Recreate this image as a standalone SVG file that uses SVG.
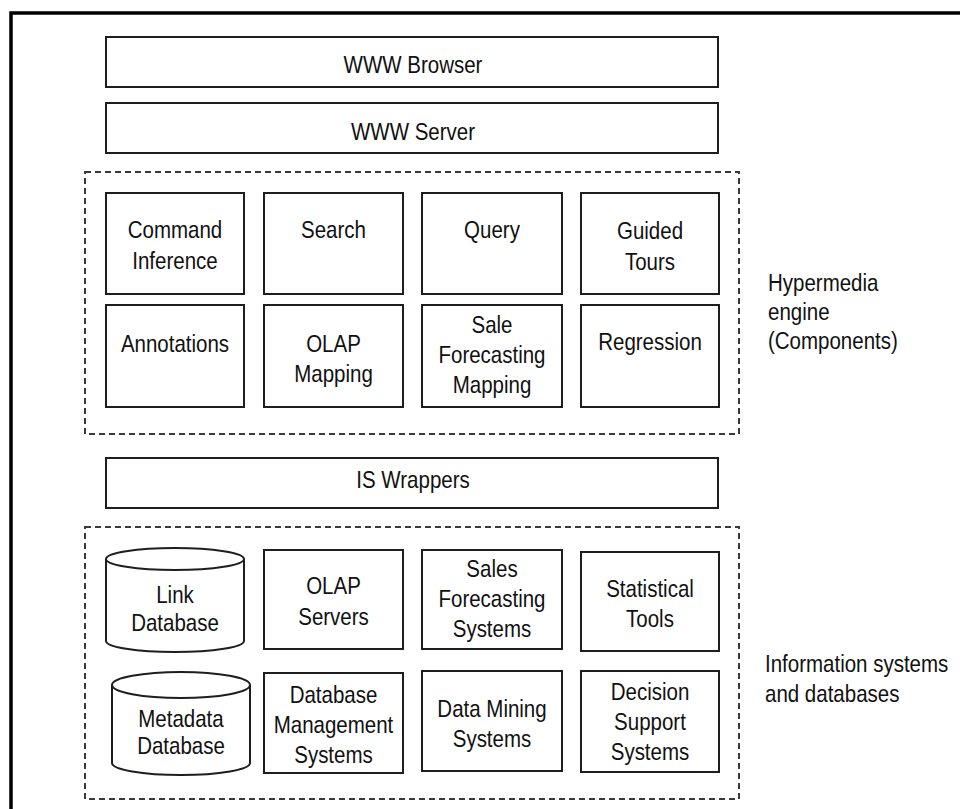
<svg xmlns="http://www.w3.org/2000/svg" width="960" height="809" viewBox="0 0 960 809">
  <style>
    .frame { fill: none; stroke: #000; stroke-width: 3.5; }
    .box { fill: #fff; stroke: #1e1e1e; stroke-width: 2; }
    .group { fill: none; stroke: #3a3a3a; stroke-width: 2; stroke-dasharray: 6 4; }
    .t { font-family: "Liberation Sans", Arial, sans-serif; font-size: 20.5px; fill: #111; }
    .c { text-anchor: middle; }
  </style>

  <rect width="960" height="809" fill="#fff"/>
  <!-- outer frame, running off the right and bottom edges -->
  <rect class="frame" x="11" y="13" width="1000" height="1000"/>

  <!-- dashed groupings -->
  <g id="hypermedia-engine">
    <rect class="group" x="85" y="172" width="654" height="262"/>
    <text class="t" transform="translate(768,291) scale(1,1.17)"><tspan x="0" y="0">Hypermedia</tspan><tspan x="0" y="24.8">engine</tspan><tspan x="0" y="49.6">(Components)</tspan></text>
  </g>
  <g id="information-systems">
    <rect class="group" x="85" y="527" width="654" height="272"/>
    <text class="t" transform="translate(765,672) scale(1,1.17)"><tspan x="0" y="0">Information systems</tspan><tspan x="0" y="25.6">and databases</tspan></text>
  </g>

  <!-- layer bars -->
  <g id="www-browser">
    <rect class="box" x="106" y="37" width="612" height="50"/>
    <text class="t c" transform="translate(413,73) scale(1,1.17)">WWW Browser</text>
  </g>
  <g id="www-server">
    <rect class="box" x="106" y="103" width="612" height="50"/>
    <text class="t c" transform="translate(413,140) scale(1,1.17)">WWW Server</text>
  </g>
  <g id="is-wrappers">
    <rect class="box" x="106" y="458" width="612" height="50"/>
    <text class="t c" transform="translate(413,488) scale(1,1.17)">IS Wrappers</text>
  </g>

  <!-- hypermedia engine components -->
  <g id="command-inference">
    <rect class="box" x="106" y="193" width="138" height="101"/>
    <text class="t c" transform="translate(175,238) scale(1,1.17)"><tspan x="0" y="0">Command</tspan><tspan x="0" y="26.5">Inference</tspan></text>
  </g>
  <g id="search">
    <rect class="box" x="264" y="193" width="139" height="101"/>
    <text class="t c" transform="translate(333.5,238) scale(1,1.17)">Search</text>
  </g>
  <g id="query">
    <rect class="box" x="422" y="193" width="140" height="101"/>
    <text class="t c" transform="translate(492,238) scale(1,1.17)">Query</text>
  </g>
  <g id="guided-tours">
    <rect class="box" x="581" y="193" width="138" height="101"/>
    <text class="t c" transform="translate(650,239) scale(1,1.17)"><tspan x="0" y="0">Guided</tspan><tspan x="0" y="26.5">Tours</tspan></text>
  </g>
  <g id="annotations">
    <rect class="box" x="106" y="305" width="138" height="102"/>
    <text class="t c" transform="translate(175,352) scale(1,1.17)">Annotations</text>
  </g>
  <g id="olap-mapping">
    <rect class="box" x="264" y="305" width="139" height="102"/>
    <text class="t c" transform="translate(333.5,352) scale(1,1.17)"><tspan x="0" y="0">OLAP</tspan><tspan x="0" y="25.6">Mapping</tspan></text>
  </g>
  <g id="sale-forecasting-mapping">
    <rect class="box" x="422" y="305" width="140" height="102"/>
    <text class="t c" transform="translate(492,333) scale(1,1.17)"><tspan x="0" y="0">Sale</tspan><tspan x="0" y="25.6">Forecasting</tspan><tspan x="0" y="51.3">Mapping</tspan></text>
  </g>
  <g id="regression">
    <rect class="box" x="581" y="305" width="138" height="102"/>
    <text class="t c" transform="translate(650,350) scale(1,1.17)">Regression</text>
  </g>

  <!-- information systems and databases -->
  <g id="link-database">
    <path class="box" d="M106,559 A69,11 0 0 1 244,559 L244,641 A69,11 0 0 1 106,641 Z"/>
    <path class="box" fill="none" d="M106,559 A69,11 0 0 0 244,559"/>
    <text class="t c" transform="translate(175,603) scale(1,1.17)"><tspan x="0" y="0">Link</tspan><tspan x="0" y="23.9">Database</tspan></text>
  </g>
  <g id="olap-servers">
    <rect class="box" x="264" y="550" width="139" height="99"/>
    <text class="t c" transform="translate(333.5,594) scale(1,1.17)"><tspan x="0" y="0">OLAP</tspan><tspan x="0" y="26.5">Servers</tspan></text>
  </g>
  <g id="sales-forecasting-systems">
    <rect class="box" x="422" y="550" width="140" height="99"/>
    <text class="t c" transform="translate(492,577) scale(1,1.17)"><tspan x="0" y="0">Sales</tspan><tspan x="0" y="25.6">Forecasting</tspan><tspan x="0" y="51.3">Systems</tspan></text>
  </g>
  <g id="statistical-tools">
    <rect class="box" x="581" y="552" width="138" height="99"/>
    <text class="t c" transform="translate(650,597) scale(1,1.17)"><tspan x="0" y="0">Statistical</tspan><tspan x="0" y="25.6">Tools</tspan></text>
  </g>
  <g id="metadata-database">
    <path class="box" d="M112,685 A69,13 0 0 1 250,685 L250,763 A69,12 0 0 1 112,763 Z"/>
    <path class="box" fill="none" d="M112,685 A69,13 0 0 0 250,685"/>
    <text class="t c" transform="translate(181,727) scale(1,1.17)"><tspan x="0" y="0">Metadata</tspan><tspan x="0" y="23.1">Database</tspan></text>
  </g>
  <g id="database-management-systems">
    <rect class="box" x="264" y="673" width="139" height="100"/>
    <text class="t c" transform="translate(333.5,703) scale(1,1.17)"><tspan x="0" y="0">Database</tspan><tspan x="0" y="25.6">Management</tspan><tspan x="0" y="51.3">Systems</tspan></text>
  </g>
  <g id="data-mining-systems">
    <rect class="box" x="422" y="671" width="140" height="100"/>
    <text class="t c" transform="translate(492,717) scale(1,1.17)"><tspan x="0" y="0">Data Mining</tspan><tspan x="0" y="25.6">Systems</tspan></text>
  </g>
  <g id="decision-support-systems">
    <rect class="box" x="581" y="671" width="138" height="101"/>
    <text class="t c" transform="translate(650,700) scale(1,1.17)"><tspan x="0" y="0">Decision</tspan><tspan x="0" y="25.6">Support</tspan><tspan x="0" y="51.3">Systems</tspan></text>
  </g>

  <!-- no connectors are drawn between the layers -->
  <g id="connectors"/>
</svg>
